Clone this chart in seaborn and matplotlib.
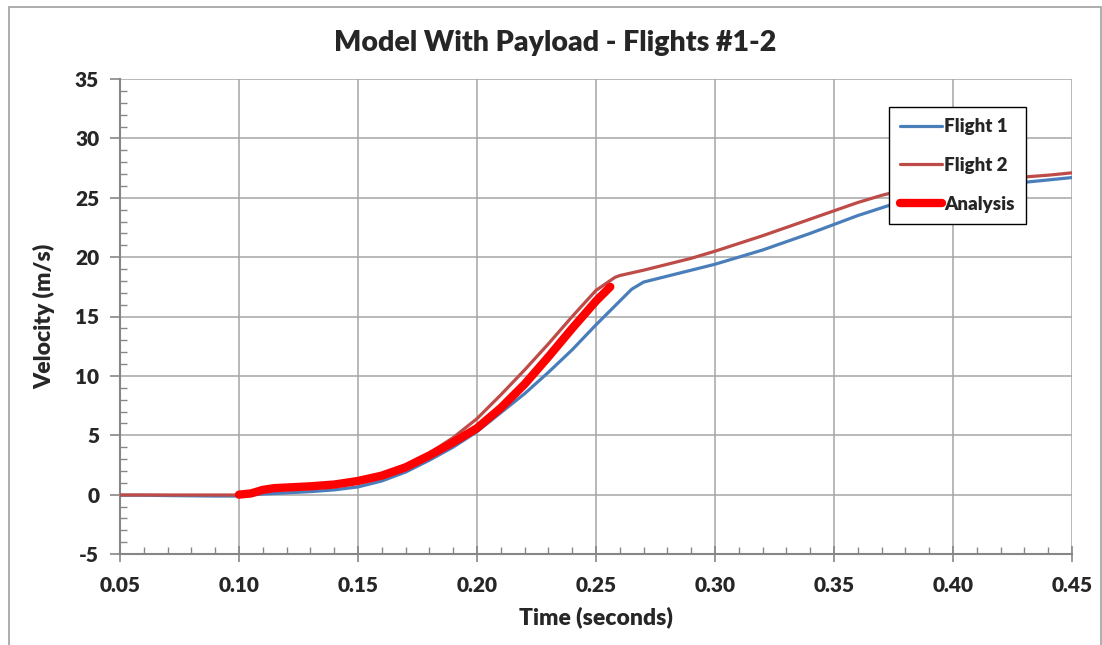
import numpy as np
import pandas as pd
import matplotlib
matplotlib.use("Agg")
import matplotlib.pyplot as plt
from matplotlib.ticker import MultipleLocator, FormatStrFormatter
from matplotlib.patches import Rectangle
import seaborn as sns

# Flight 1 velocity record
t_flight1 = [0.05, 0.06, 0.07, 0.08, 0.09, 0.10, 0.11, 0.12, 0.13, 0.14, 0.15,
             0.16, 0.17, 0.18, 0.19, 0.20, 0.21, 0.22, 0.23, 0.24, 0.25, 0.26,
             0.265, 0.27, 0.28, 0.29, 0.30, 0.32, 0.34, 0.36, 0.38, 0.40, 0.42,
             0.44, 0.45]
v_flight1 = [-0.05, -0.05, -0.08, -0.10, -0.12, -0.12, 0.05, 0.15, 0.25, 0.40, 0.65,
             1.15, 1.90, 2.90, 4.00, 5.30, 6.90, 8.50, 10.30, 12.20, 14.30, 16.30,
             17.30, 17.90, 18.40, 18.90, 19.40, 20.60, 22.00, 23.50, 24.80, 25.60, 26.10,
             26.50, 26.70]

# Flight 2 velocity record
t_flight2 = [0.05, 0.06, 0.07, 0.08, 0.09, 0.10, 0.105, 0.11, 0.115, 0.12, 0.13,
             0.14, 0.15, 0.16, 0.17, 0.18, 0.19, 0.20, 0.21, 0.22, 0.23, 0.24,
             0.25, 0.258, 0.26, 0.27, 0.28, 0.29, 0.30, 0.32, 0.34, 0.36, 0.37,
             0.38, 0.40, 0.42, 0.44, 0.45]
v_flight2 = [-0.03, -0.03, -0.03, -0.03, -0.03, -0.03, 0.10, 0.30, 0.45, 0.50, 0.60,
             0.80, 1.15, 1.70, 2.50, 3.50, 4.80, 6.40, 8.40, 10.50, 12.70, 15.00,
             17.20, 18.30, 18.45, 18.90, 19.40, 19.90, 20.50, 21.80, 23.20, 24.60, 25.20,
             25.70, 26.20, 26.60, 26.90, 27.10]

# Model prediction
t_analysis = [0.100, 0.105, 0.110, 0.115, 0.12, 0.13, 0.14, 0.15, 0.16, 0.17,
              0.18, 0.19, 0.20, 0.21, 0.22, 0.23, 0.24, 0.25, 0.256]
v_analysis = [0.00, 0.10, 0.40, 0.55, 0.60, 0.70, 0.85, 1.15, 1.60, 2.30,
              3.30, 4.40, 5.60, 7.30, 9.30, 11.60, 14.00, 16.30, 17.50]

series_names = ["Flight 1", "Flight 2", "Analysis"]
series_colors = ["#4A7EBB", "#BE4B48", "#FF0000"]
series_widths = [2.3, 2.3, 6.0]

x_ticks = [0.05, 0.10, 0.15, 0.20, 0.25, 0.30, 0.35, 0.40, 0.45]
y_ticks = [-5, 0, 5, 10, 15, 20, 25, 30, 35]

sns.set_theme(style="white")
plt.rcParams["font.family"] = ["Lato", "DejaVu Sans"]
plt.rcParams["font.weight"] = 800
plt.rcParams["axes.unicode_minus"] = False
BOLD = 800

W, H = 1102, 645
fig = plt.figure(figsize=(W / 100, H / 100), dpi=100)
fig.patch.set_facecolor("white")

# chart frame
fig.patches.append(Rectangle((9 / W, -0.05), (1101 - 9) / W, 1 - 7 / H + 0.05,
                             transform=fig.transFigure, fill=False,
                             edgecolor="#A0A0A0", linewidth=1.2, zorder=0))

ax = fig.add_axes([120 / W, 1 - 554 / H, (1072 - 120) / W, (554 - 79) / H])

frames = [
    pd.DataFrame({"t": t_flight1, "v": v_flight1}),
    pd.DataFrame({"t": t_flight2, "v": v_flight2}),
    pd.DataFrame({"t": t_analysis, "v": v_analysis}),
]
for df, name, col, lw in zip(frames, series_names, series_colors, series_widths):
    sns.lineplot(data=df, x="t", y="v", ax=ax, color=col, linewidth=lw,
                 label=name, sort=False, estimator=None,
                 solid_capstyle="round", zorder=3)

ax.set_xlim(0.05, 0.45)
ax.set_ylim(-5, 35)
ax.set_xticks(x_ticks)
ax.set_yticks(y_ticks)
ax.xaxis.set_major_formatter(FormatStrFormatter("%.2f"))
ax.xaxis.set_minor_locator(MultipleLocator(0.01))
ax.yaxis.set_minor_locator(MultipleLocator(1))

ax.grid(True, which="major", color="#A6A6A6", linewidth=1.1, zorder=0)
ax.set_axisbelow(True)

for side in ["top", "right"]:
    ax.spines[side].set_visible(False)
for side in ["left", "bottom"]:
    ax.spines[side].set_color("#868686")
    ax.spines[side].set_linewidth(1.5)

ax.tick_params(axis="x", which="major", direction="inout", length=12, width=1.2,
               color="#868686", labelsize=15, pad=10, bottom=True)
ax.tick_params(axis="x", which="minor", direction="in", length=5, width=1.0,
               color="#868686", bottom=True)
ax.tick_params(axis="y", which="major", direction="out", length=7, width=1.2,
               color="#868686", labelsize=15, pad=8, left=True)
ax.tick_params(axis="y", which="minor", direction="in", length=5, width=1.0,
               color="#868686", left=True)
for lab in ax.get_xticklabels() + ax.get_yticklabels():
    lab.set_fontweight(BOLD)

ax.set_xlabel("Time (seconds)", fontsize=16.5, fontweight=BOLD, labelpad=8)
ax.set_ylabel("Velocity (m/s)", fontsize=16.5, fontweight=BOLD, labelpad=14)
fig.text(555 / W, 1 - 43 / H, "Model With Payload - Flights #1-2",
         ha="center", va="center", fontsize=20.5, fontweight=BOLD)

leg = ax.legend(loc="upper left", bbox_to_anchor=((889 - 120) / 952, (554 - 107) / 475),
                frameon=True, fancybox=False, framealpha=1, edgecolor="black",
                fontsize=13.5, handlelength=2.2, handletextpad=0.12,
                labelspacing=1.16, borderpad=0.6, borderaxespad=0)
leg.get_frame().set_linewidth(1.0)
for txt in leg.get_texts():
    txt.set_fontweight(BOLD)

fig.savefig("out.png", dpi=100)
